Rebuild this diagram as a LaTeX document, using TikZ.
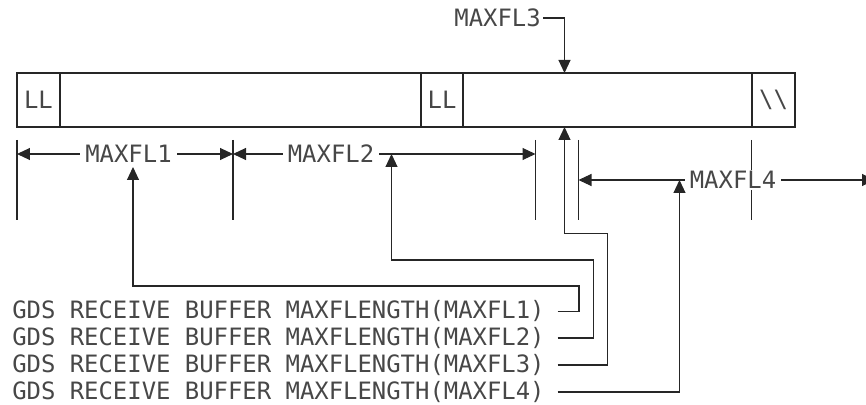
\documentclass[tikz,border=0pt]{standalone}
\usepackage{fontspec}
\setmonofont{DejaVu Sans Mono}
\usetikzlibrary{arrows.meta}
\tikzset{
  lbl/.style={font=\ttfamily\fontsize{13.6pt}{16pt}\selectfont, inner sep=1pt, text=black!72},
  dimlbl/.style={lbl, fill=white, inner xsep=3pt},
  dimline/.style={{Triangle[length=0.26cm,width=0.24cm]}-{Triangle[length=0.26cm,width=0.24cm]}},
  ptr/.style={-{Triangle[length=0.26cm,width=0.24cm]}}
}
\begin{document}
\begin{tikzpicture}[line width=0.6pt, black!85]
  \useasboundingbox (0,0) rectangle (17.32,8.08);
  % the record
  \draw (0.34,5.54) rectangle (15.9,6.62);
  \foreach \x in {1.2,8.42,9.26,15.04}
    \draw (\x,5.54) -- (\x,6.62);
  \node[lbl] (ll1) at (0.77,6.08) {LL};
  \node[lbl] (ll2) at (8.84,6.08) {LL};
  \node[lbl] (eor) at (15.47,6.08) {\textbackslash\textbackslash};
  % extension lines
  \foreach \x [count=\i] in {0.34,4.66,10.71,11.57,15.03}
    \draw (\x,5.28) coordinate (e\i) -- (\x,3.68);
  % dimension lines
  \draw[dimline] (0.34,5.0) coordinate (d1) -- (4.66,5.0) coordinate (d2);
  \draw[dimline] (d2) -- (10.71,5.0) coordinate (d3);
  \draw[dimline] (11.57,4.48) coordinate (d4) -- (17.5,4.48) coordinate (d5);
  \node[dimlbl] (fl1) at (2.57,5.0) {MAXFL1};
  \node[dimlbl] (fl2) at (6.62,5.0) {MAXFL2};
  \node[dimlbl] (fl4) at (14.66,4.48) {MAXFL4};
  % MAXFL3 points into the second record
  \node[lbl, anchor=east] (fl3) at (10.86,7.72) {MAXFL3};
  \draw[ptr] (fl3.east) -| (11.29,6.62);
  % the four statements
  \foreach \i/\y in {1/1.85,2/1.32,3/0.78,4/0.24}
    \node[lbl, anchor=west] (s\i) at (0.2,\y) {GDS RECEIVE BUFFER MAXFLENGTH(MAXFL\i)};
  \coordinate (cx) at (11.15,0);
  \draw[ptr] (s1.east -| cx) -| (11.58,2.36) -| (2.66,4.74);
  \draw[ptr] (s2.east -| cx) -| (11.87,2.88) -| (7.83,5.0);
  \draw[ptr] (s3.east -| cx) -| (12.15,3.41) -| (11.29,5.54);
  \draw[ptr] (s4.east -| cx) -| (13.59,4.48);
\end{tikzpicture}
\end{document}
